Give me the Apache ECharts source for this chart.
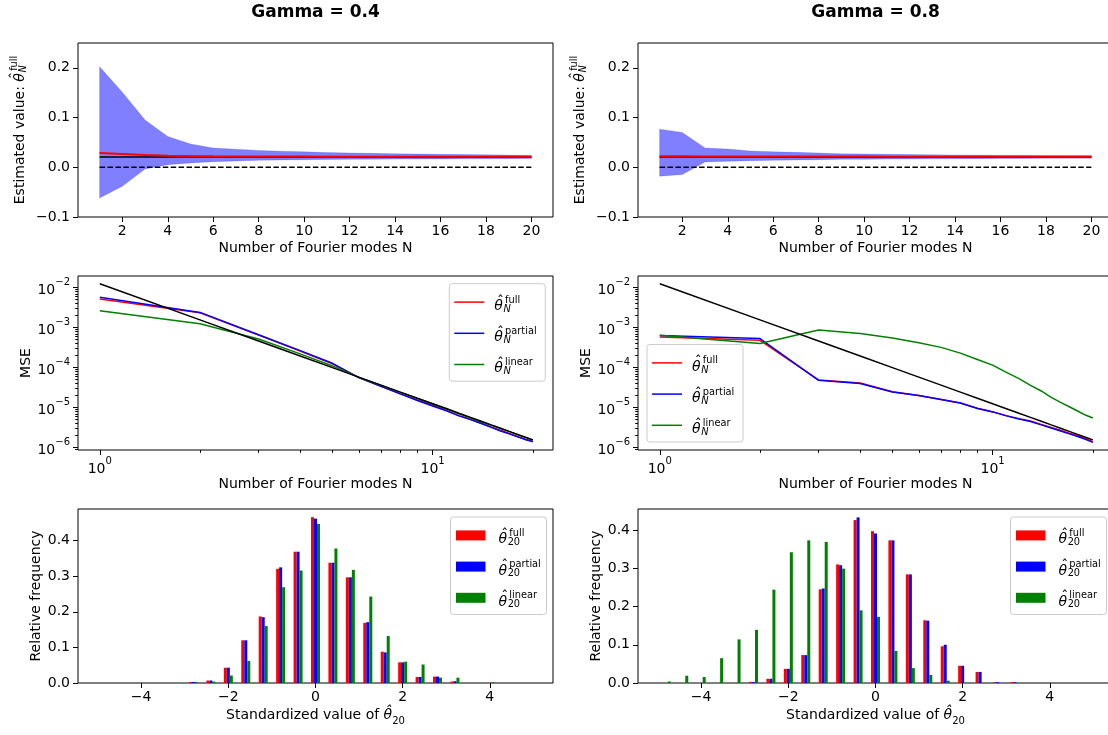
<!DOCTYPE html>
<html><head><meta charset="utf-8">
<script src="https://cdn.jsdelivr.net/npm/echarts@6/dist/echarts.min.js"></script>
<style>html,body{margin:0;padding:0;background:#fff}#c{width:1108px;height:735px}</style>
</head><body><div id="c"></div><script>
// ---------------- DATA ----------------
const N = [1,2,3,4,5,6,7,8,9,10,11,12,13,14,15,16,17,18,19,20];
const trueValue = 0.0208;
const zeroLevel = 0;
// Gamma = 0.4, estimated value band (full estimator)
const est04Upper = [0.202,0.151,0.095,0.062,0.047,0.0387,0.0365,0.034,0.0325,0.031,0.0298,0.0288,0.028,0.0272,0.0265,0.026,0.0255,0.025,0.0245,0.024];
const est04Lower = [-0.062,-0.038,-0.0033,0.0053,0.0087,0.0113,0.0127,0.014,0.0147,0.0153,0.0157,0.016,0.0163,0.0165,0.0167,0.0169,0.017,0.0172,0.0173,0.0175];
const est04Mean  = [0.0287,0.0267,0.0247,0.0233,0.0226,0.0222,0.0219,0.0217,0.0216,0.0215,0.0214,0.0213,0.0212,0.0212,0.0211,0.0211,0.021,0.021,0.021,0.021];
// Gamma = 0.8
const est08Upper = [0.0767,0.070,0.0387,0.0367,0.0327,0.031,0.030,0.0287,0.027,0.0267,0.026,0.0255,0.025,0.0248,0.0245,0.0242,0.024,0.0238,0.0236,0.0235];
const est08Lower = [-0.018,-0.0147,0.0107,0.012,0.0133,0.014,0.0147,0.0153,0.016,0.016,0.0165,0.0167,0.017,0.0172,0.0174,0.0176,0.0178,0.018,0.0181,0.0182];
const est08Mean  = [0.0222,0.0221,0.0219,0.0218,0.0217,0.0216,0.0216,0.0215,0.0215,0.0215,0.0214,0.0214,0.0214,0.0213,0.0213,0.0213,0.0213,0.0212,0.0212,0.0212];
// MSE
const mseRef = [1.25e-2,1.56e-3,4.63e-4,1.95e-4,1.0e-4,5.79e-5,3.64e-5,2.44e-5,1.71e-5,1.25e-5,9.39e-6,7.23e-6,5.69e-6,4.56e-6,3.70e-6,3.05e-6,2.54e-6,2.14e-6,1.82e-6,1.56e-6];
const mse04Full    = [5.2e-3,2.35e-3,6.5e-4,2.6e-4,1.25e-4,5.6e-5,3.4e-5,2.2e-5,1.55e-5,1.15e-5,8.5e-6,6.3e-6,5.1e-6,4.1e-6,3.3e-6,2.7e-6,2.25e-6,1.9e-6,1.6e-6,1.45e-6];
const mse04Partial = [5.7e-3,2.4e-3,6.6e-4,2.65e-4,1.28e-4,5.6e-5,3.4e-5,2.2e-5,1.5e-5,1.1e-5,8.3e-6,6.2e-6,5.0e-6,4.0e-6,3.2e-6,2.6e-6,2.2e-6,1.85e-6,1.6e-6,1.4e-6];
const mse04Linear  = [2.65e-3,1.25e-3,5.2e-4,2.2e-4,1.1e-4,5.7e-5,3.6e-5,2.4e-5,1.7e-5,1.25e-5,9.5e-6,7.0e-6,5.5e-6,4.4e-6,3.6e-6,3.0e-6,2.5e-6,2.1e-6,1.8e-6,1.55e-6];
const mse08Full    = [5.8e-4,4.8e-4,4.9e-5,4.1e-5,2.5e-5,2.0e-5,1.6e-5,1.3e-5,9.7e-6,7.9e-6,6.3e-6,5.3e-6,4.6e-6,3.8e-6,3.2e-6,2.7e-6,2.3e-6,2.0e-6,1.7e-6,1.4e-6];
const mse08Partial = [6.3e-4,5.3e-4,4.8e-5,4.0e-5,2.45e-5,2.0e-5,1.6e-5,1.3e-5,9.5e-6,7.8e-6,6.2e-6,5.2e-6,4.5e-6,3.7e-6,3.1e-6,2.6e-6,2.2e-6,1.9e-6,1.6e-6,1.35e-6];
const mse08Linear  = [6.4e-4,4.0e-4,8.7e-4,7.1e-4,5.5e-4,4.2e-4,3.2e-4,2.3e-4,1.6e-4,1.15e-4,7.6e-5,5.3e-5,3.6e-5,2.6e-5,1.8e-5,1.35e-5,1.05e-5,8.2e-6,6.5e-6,5.5e-6];
// Histograms (relative frequency per bin)
const binCenters = [-4.8,-4.4,-4.0,-3.6,-3.2,-2.8,-2.4,-2.0,-1.6,-1.2,-0.8,-0.4,0,0.4,0.8,1.2,1.6,2.0,2.4,2.8,3.2,3.6,4.0];
const hist04Full    = [0,0,0,0,0,0.003,0.007,0.043,0.120,0.187,0.321,0.369,0.466,0.338,0.297,0.169,0.088,0.058,0.017,0.018,0.004,0,0];
const hist04Partial = [0,0,0,0,0,0.003,0.007,0.043,0.120,0.185,0.325,0.369,0.462,0.338,0.297,0.171,0.086,0.058,0.017,0.018,0.005,0,0];
const hist04Linear  = [0,0,0,0,0,0.003,0.004,0.021,0.062,0.160,0.269,0.316,0.447,0.378,0.318,0.243,0.132,0.060,0.052,0.015,0.015,0,0.002];
const hist08Full    = [0,0,0,0,0,0.003,0.011,0.037,0.073,0.245,0.310,0.426,0.397,0.373,0.284,0.164,0.096,0.045,0.029,0.002,0.002,0,0];
const hist08Partial = [0,0,0,0,0,0.002,0.011,0.037,0.073,0.247,0.308,0.433,0.391,0.373,0.284,0.163,0.100,0.045,0.029,0.002,0.002,0,0];
const hist08Linear  = [0.004,0.019,0.0155,0.065,0.114,0.139,0.244,0.342,0.373,0.369,0.299,0.190,0.173,0.084,0.039,0.021,0.006,0,0,0,0,0,0];
// Tick values
const nTicks = [2,4,6,8,10,12,14,16,18,20];
const estTicks = [-0.1,0,0.1,0.2];
const logXTicks = [1,10];
const logXMinor = [2,3,4,5,6,7,8,9,20];
const logYTicks = [1e-6,1e-5,1e-4,1e-3,1e-2];
const logYMinor = [9e-7,2e-6,3e-6,4e-6,5e-6,6e-6,7e-6,8e-6,9e-6,2e-5,3e-5,4e-5,5e-5,6e-5,7e-5,8e-5,9e-5,2e-4,3e-4,4e-4,5e-4,6e-4,7e-4,8e-4,9e-4,2e-3,3e-3,4e-3,5e-3,6e-3,7e-3,8e-3,9e-3];
const stdTicks = [-4,-2,0,2,4];
const freqTicks = [0,0.1,0.2,0.3,0.4];
const titles = ['Gamma = 0.4','Gamma = 0.8'];

// ---------------- LAYOUT / STYLE ----------------
const FONT = 'DejaVu Sans';
const GW = 475, GH = 174;
const COLX = [78, 638];
const ROWY = [43, 276, 509];
const RED = '#ff0000', BLUE = '#0000ff', GREEN = '#008000';

const mctx = document.createElement('canvas').getContext('2d');
function tw(t, size, italic){ mctx.font = (italic?'italic ':'') + size + 'px "' + FONT + '"'; return mctx.measureText(t).width; }
function tEl(text, x, y, size, italic, align){
  return {type:'text', x:x, y:y, z:100, style:{text:text, font:(italic?'italic ':'')+size+'px "'+FONT+'"', fill:'#000', textAlign:align||'left', textVerticalAlign:'middle'}};
}
function mathPieces(prefix, sup, sub, subItalic, x0, yMid, size){
  const small = Math.round(size*0.7*10)/10;
  const els = []; let x = x0;
  if (prefix){ els.push(tEl(prefix, x, yMid, size, false)); x += tw(prefix, size, false); }
  const wt = tw('\u03B8', size, true);
  els.push(tEl('\u03B8', x, yMid, size, true));
  els.push(tEl('\u02C6', x + wt/2 + 0.14*size, yMid - 0.32*size, size, false, 'center'));
  x += wt;
  const xs = x + 0.16*size, xb = x + 0.04*size;
  let w = x - x0;
  if (sup){ els.push(tEl(sup, xs, yMid - 0.45*size, small, false)); w = Math.max(w, xs + tw(sup, small, false) - x0); }
  if (sub){ els.push(tEl(sub, xb, yMid + 0.2*size, small, subItalic)); w = Math.max(w, xb + tw(sub, small, subItalic) - x0); }
  return {els:els, w:w};
}
function legendGroup(bx, by, kind, items, subText, subItalic){
  const ch = [];
  ch.push({type:'rect', z:99, shape:{x:bx, y:by, width:96, height:97.5, r:3}, style:{fill:'rgba(255,255,255,0.8)', stroke:'#cccccc', lineWidth:1}});
  items.forEach(function(it, i){
    const yr = by + 18.4 + i*31.2;
    if (kind === 'line') ch.push({type:'line', z:100, shape:{x1:bx+5, y1:yr, x2:bx+35, y2:yr}, style:{stroke:it.color, lineWidth:1.5}});
    else ch.push({type:'rect', z:100, shape:{x:bx+5.5, y:yr-5, width:29.5, height:10}, style:{fill:it.color}});
    const m = mathPieces('', it.sup, subText, subItalic, bx + (kind==='line'?45:48), yr + 4.3, 14);
    m.els.forEach(function(e){ ch.push(e); });
  });
  return {type:'group', children:ch};
}
function yMathLabel(cx, cy){
  const m = mathPieces('Estimated value: ', 'full', 'N', true, 0, 0, 14);
  m.els.forEach(function(e){ e.x -= m.w/2; });
  return {type:'group', x:cx, y:cy, rotation:Math.PI/2, children:m.els};
}

const tickStyle = function(vals, len){ return {show:true, inside:false, length:len||5, customValues:vals, lineStyle:{color:'#000', width:1}}; };
const noLine = {show:false, onZero:false};
const lblBase = {color:'#000', fontSize:14, fontFamily:FONT};
const nameStyle = {color:'#000', fontSize:14, fontFamily:FONT};
function fmt1(v){ return (Math.abs(v)<1e-9?0:v).toFixed(1).replace('-','\u2212'); }
function fmtInt(v){ return String(Math.round(v)).replace('-','\u2212'); }
function fmtPow(v){ const e = Math.round(Math.log10(v)); return '{b|10}{s|' + (e<0 ? '\u2212'+(-e) : e) + '}'; }
const powRich = {
  b:{fontSize:14, fontFamily:FONT, color:'#000', lineHeight:20, verticalAlign:'bottom'},
  s:{fontSize:10, fontFamily:FONT, color:'#000', lineHeight:10, verticalAlign:'top'}
};

function mkGrid(c, r, show){
  return {left:COLX[c], top:ROWY[r], width:GW, height:GH, show:show, borderColor:'#000', borderWidth:1, backgroundColor:'transparent', containLabel:false, outerBoundsMode:'none'};
}
const grids = [mkGrid(0,0,true), mkGrid(1,0,true), mkGrid(0,1,true), mkGrid(1,1,true), mkGrid(0,2,true), mkGrid(1,2,true), mkGrid(0,1,false), mkGrid(1,1,false)];

const xAxes = [], yAxes = [];
[0,1].forEach(function(c){
  xAxes.push({type:'value', gridIndex:c, min:0.05, max:20.95, axisLine:noLine, splitLine:{show:false},
    axisTick:tickStyle(nTicks), axisLabel:Object.assign({margin:7, customValues:nTicks, formatter:fmtInt}, lblBase),
    name:'Number of Fourier modes N', nameLocation:'middle', nameGap:24, nameTextStyle:nameStyle});
  yAxes.push({type:'value', gridIndex:c, min:-0.1, max:0.25, axisLine:noLine, splitLine:{show:false},
    axisTick:tickStyle(estTicks), axisLabel:Object.assign({margin:8, customValues:estTicks, formatter:fmt1}, lblBase)});
});
[0,1].forEach(function(c){
  xAxes.push({type:'log', logBase:10, gridIndex:2+c, min:0.86, max:23, axisLine:noLine, splitLine:{show:false}, minorTick:{show:false},
    axisTick:tickStyle(logXTicks), axisLabel:{margin:6, customValues:logXTicks, formatter:fmtPow, rich:powRich},
    name:'Number of Fourier modes N', nameLocation:'middle', nameGap:26, nameTextStyle:nameStyle});
  yAxes.push({type:'log', logBase:10, gridIndex:2+c, min:8.7e-7, max:0.0195, axisLine:noLine, splitLine:{show:false}, minorTick:{show:false},
    axisTick:tickStyle(logYTicks), axisLabel:{margin:8, customValues:logYTicks, formatter:fmtPow, rich:powRich},
    name:'MSE', nameLocation:'middle', nameRotate:90, nameGap:45, nameTextStyle:nameStyle});
});
[0,1].forEach(function(c){
  xAxes.push({type:'value', gridIndex:4+c, min:-5.45, max:5.45, axisLine:noLine, splitLine:{show:false},
    axisTick:tickStyle(stdTicks), axisLabel:Object.assign({margin:7, customValues:stdTicks, formatter:fmtInt}, lblBase),
    name:'{a|Standardized value of }{t|\u03B8\u0302}{s|20}', nameLocation:'middle', nameGap:25,
    nameTextStyle:{rich:{
      a:{fontSize:14, fontFamily:FONT, color:'#000', lineHeight:18, verticalAlign:'top'},
      t:{fontSize:14, fontFamily:FONT, fontStyle:'italic', color:'#000', lineHeight:18, verticalAlign:'top'},
      s:{fontSize:10, fontFamily:FONT, color:'#000', lineHeight:10, verticalAlign:'bottom'}}}});
  yAxes.push({type:'value', gridIndex:4+c, min:0, max:(c===0?0.489:0.455), axisLine:noLine, splitLine:{show:false},
    axisTick:tickStyle(freqTicks), axisLabel:Object.assign({margin:8, customValues:freqTicks, formatter:fmt1}, lblBase),
    name:'Relative frequency', nameLocation:'middle', nameRotate:90, nameGap:35, nameTextStyle:nameStyle});
});
[0,1].forEach(function(c){
  xAxes.push({type:'log', logBase:10, gridIndex:6+c, min:0.86, max:23, axisLine:noLine, splitLine:{show:false},
    axisTick:tickStyle(logXMinor, 2.8), axisLabel:{show:false}});
  yAxes.push({type:'log', logBase:10, gridIndex:6+c, min:8.7e-7, max:0.0195, axisLine:noLine, splitLine:{show:false},
    axisTick:tickStyle(logYMinor, 2.8), axisLabel:{show:false}});
});

function zip(xs, ys){ return xs.map(function(x,i){ return [x, ys[i]]; }); }
const series = [];
function estSeries(ax, upper, lower, mean){
  const band = N.map(function(n,i){ return [n, lower[i], upper[i]]; });
  series.push({type:'custom', xAxisIndex:ax, yAxisIndex:ax, data:band, encode:{x:0, y:[1,2]}, silent:true, z:1,
    renderItem:function(params, api){
      if (params.dataIndex !== 0) return null;
      const pts = [];
      for (let i=0;i<band.length;i++) pts.push(api.coord([band[i][0], band[i][2]]));
      for (let i=band.length-1;i>=0;i--) pts.push(api.coord([band[i][0], band[i][1]]));
      return {type:'polygon', shape:{points:pts}, style:{fill:'rgba(0,0,255,0.5)', stroke:'rgba(0,0,255,0.25)', lineWidth:0.6}};
    }});
  series.push({type:'line', xAxisIndex:ax, yAxisIndex:ax, data:[[N[0], zeroLevel],[N[N.length-1], zeroLevel]], symbol:'none', lineStyle:{color:'#000', width:1.5, type:[5.5,2.4]}, z:3});
  series.push({type:'line', xAxisIndex:ax, yAxisIndex:ax, data:[[N[0], trueValue],[N[N.length-1], trueValue]], symbol:'none', lineStyle:{color:'#000', width:1.5}, z:3});
  series.push({type:'line', xAxisIndex:ax, yAxisIndex:ax, data:zip(N, mean), symbol:'none', lineStyle:{color:RED, width:2}, z:4});
}
estSeries(0, est04Upper, est04Lower, est04Mean);
estSeries(1, est08Upper, est08Lower, est08Mean);
function mseSeries(ax, full, partial, linear){
  [[full,RED],[partial,BLUE],[linear,GREEN],[mseRef,'#000']].forEach(function(p){
    series.push({type:'line', xAxisIndex:ax, yAxisIndex:ax, data:zip(N, p[0]), symbol:'none', lineStyle:{color:p[1], width:1.5}, z:3});
  });
}
mseSeries(2, mse04Full, mse04Partial, mse04Linear);
mseSeries(3, mse08Full, mse08Partial, mse08Linear);
function histSeries(ax, full, partial, linear){
  [[full,RED],[partial,BLUE],[linear,GREEN]].forEach(function(p){
    series.push({type:'bar', xAxisIndex:ax, yAxisIndex:ax, data:zip(binCenters, p[0]), barWidth:3, barGap:'0%', itemStyle:{color:p[1]}, z:3});
  });
}
histSeries(4, hist04Full, hist04Partial, hist04Linear);
histSeries(5, hist08Full, hist08Partial, hist08Linear);

const lineItems = [{color:RED, sup:'full'},{color:BLUE, sup:'partial'},{color:GREEN, sup:'linear'}];
const graphics = [
  yMathLabel(20.8, ROWY[0]+GH/2),
  yMathLabel(20.8+560, ROWY[0]+GH/2),
  legendGroup(COLX[0]+GW-103.7, ROWY[1]+7.7, 'line', lineItems, 'N', true),
  legendGroup(COLX[1]+9, ROWY[1]+GH-8-97.5, 'line', lineItems, 'N', true),
  legendGroup(COLX[0]+GW-102.5, ROWY[2]+8, 'patch', lineItems, '20', false),
  legendGroup(COLX[1]+GW-102.5, ROWY[2]+8, 'patch', lineItems, '20', false)
];

const chart = echarts.init(document.getElementById('c'), null, {renderer:'canvas'});
chart.setOption({
  animation:false,
  backgroundColor:'#ffffff',
  textStyle:{fontFamily:FONT},
  title:[
    {text:titles[0], left:COLX[0]+GW/2, top:4, textAlign:'center', padding:0, textStyle:{fontSize:17, fontWeight:'bold', color:'#000', fontFamily:FONT}},
    {text:titles[1], left:COLX[1]+GW/2, top:4, textAlign:'center', padding:0, textStyle:{fontSize:17, fontWeight:'bold', color:'#000', fontFamily:FONT}}
  ],
  grid:grids,
  xAxis:xAxes,
  yAxis:yAxes,
  series:series,
  graphic:graphics
});
</script></body></html>
